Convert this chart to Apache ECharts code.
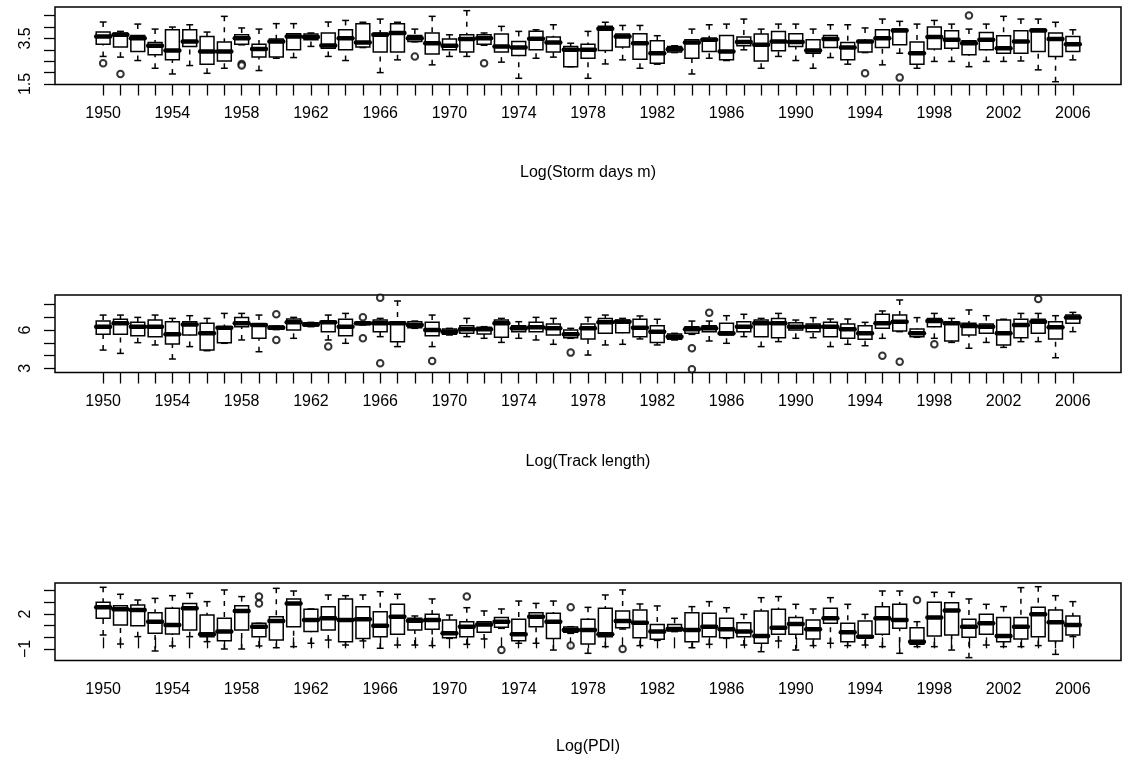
<!DOCTYPE html>
<html>
<head>
<meta charset="utf-8">
<script src="https://cdn.jsdelivr.net/npm/echarts@6/dist/echarts.min.js"></script>
<style>
html,body{margin:0;padding:0;background:#fff;}
#chart{width:1129px;height:757px;}
</style>
</head>
<body>
<div id="chart"></div>
<script>
// ---------- DATA ----------
var years = [];
for (var y = 1950; y <= 2006; y++) years.push(y);
var yearLabels = [1950,1954,1958,1962,1966,1970,1974,1978,1982,1986,1990,1994,1998,2002,2006];

// Panel 1: Log(Storm days m)
var stormMin = [2.71,2.68,2.53,2.19,1.94,2.31,1.97,2.19,3.22,2.09,2.63,2.66,3.15,2.71,2.53,3.10,2.00,2.56,3.35,2.34,2.71,2.71,3.20,2.46,1.75,2.63,2.68,2.26,1.75,2.38,2.56,2.19,2.37,2.88,1.94,2.63,2.53,3.00,2.19,2.71,2.53,2.19,2.66,2.37,2.88,2.34,2.85,2.19,2.49,2.49,2.26,2.49,2.49,2.51,2.12,1.60,2.56];
var stormQ1  = [3.25,3.12,2.93,2.78,2.56,3.15,2.37,2.51,3.25,2.68,2.68,3.00,3.44,3.07,3.00,3.12,2.90,2.90,3.37,2.82,3.00,2.90,3.25,2.90,2.75,3.00,2.90,2.26,2.63,2.97,3.12,2.59,2.41,2.90,2.63,2.93,2.56,3.18,2.51,2.96,3.15,2.85,3.10,2.56,2.90,3.10,3.22,2.37,3.04,3.07,2.78,3.00,2.85,2.85,2.93,2.71,2.93];
var stormMed = [3.59,3.66,3.51,3.18,2.97,3.37,2.93,2.93,3.51,3.04,3.37,3.59,3.56,3.19,3.51,3.32,3.66,3.74,3.51,3.29,3.18,3.47,3.51,3.15,3.10,3.49,3.32,3.00,3.00,3.93,3.59,3.29,2.85,3.03,3.32,3.44,2.93,3.34,3.22,3.37,3.34,2.97,3.47,3.10,3.37,3.51,3.85,2.85,3.56,3.44,3.29,3.44,3.07,3.37,3.85,3.47,3.25];
var stormQ3  = [3.78,3.74,3.63,3.32,3.88,3.88,3.59,3.34,3.66,3.25,3.47,3.71,3.69,3.74,3.88,4.15,3.74,4.15,3.63,3.74,3.47,3.66,3.66,3.69,3.37,3.82,3.56,3.15,3.25,4.03,3.69,3.71,3.40,3.15,3.44,3.51,3.63,3.56,3.69,3.81,3.71,3.44,3.63,3.32,3.41,3.88,3.91,3.34,4.00,3.84,3.40,3.76,3.62,3.84,3.91,3.74,3.59];
var stormMax = [4.22,3.81,4.13,3.91,4.00,4.10,3.78,4.47,3.96,3.91,4.15,4.15,3.74,4.22,4.29,4.21,4.35,4.21,3.91,4.47,3.66,4.72,3.74,4.03,3.81,3.88,4.10,3.29,3.81,4.21,4.07,4.07,3.62,3.18,3.91,4.10,4.13,4.35,3.91,4.13,4.13,3.91,4.10,4.10,3.96,4.35,4.25,4.13,4.29,4.13,3.91,4.13,4.47,4.35,4.35,4.21,3.88];
var stormOut = [[1950,2.41],[1951,1.94],[1958,2.38],[1958,2.31],[1968,2.71],[1972,2.41],[1994,1.97],[1996,1.78],[2000,4.51]];

// Panel 2: Log(Track length)
var trackMin = [4.43,4.17,5.01,4.83,3.73,4.70,4.38,4.96,5.22,4.30,6.03,5.35,6.26,5.22,4.96,6.39,5.48,4.70,6.13,4.70,5.61,5.48,5.35,5.03,5.35,5.22,4.88,5.35,4.04,4.83,4.88,5.30,4.83,5.22,5.66,5.14,4.96,5.48,4.70,5.09,5.35,5.40,4.70,4.88,4.77,5.35,5.87,5.43,5.35,5.03,4.57,5.03,4.64,5.09,5.09,3.83,5.87];
var trackQ1  = [5.66,5.66,5.56,5.48,4.90,5.61,4.43,5.01,6.26,5.35,6.05,6.00,6.31,5.87,5.56,6.44,5.87,5.09,6.18,5.56,5.66,5.74,5.69,5.43,5.87,5.87,5.61,5.40,5.30,5.74,5.79,5.48,5.03,5.27,5.74,5.87,5.61,5.87,5.48,5.40,6.00,5.87,5.48,5.35,5.27,6.13,5.92,5.48,6.26,5.14,5.61,5.74,4.83,5.40,5.74,5.30,6.52];
var trackMed = [6.26,6.52,6.26,6.26,5.66,6.44,5.74,6.18,6.52,6.39,6.18,6.60,6.44,6.60,6.26,6.52,6.52,6.52,6.39,6.00,5.87,6.05,6.05,6.52,6.13,6.21,6.13,5.66,6.13,6.60,6.65,6.18,5.87,5.48,6.05,6.13,5.74,6.26,6.52,6.52,6.26,6.26,6.26,6.05,5.74,6.52,6.65,5.74,6.70,6.52,6.31,6.26,5.74,6.39,6.65,6.21,6.97];
var trackQ3  = [6.70,6.84,6.60,6.78,6.65,6.65,6.52,6.26,6.97,6.44,6.31,6.86,6.57,6.65,6.84,6.57,6.78,6.65,6.65,6.60,6.08,6.34,6.21,6.78,6.34,6.60,6.47,6.00,6.47,6.91,6.78,6.84,6.34,5.69,6.26,6.34,6.52,6.65,6.78,6.91,6.57,6.47,6.60,6.47,6.34,7.23,7.17,6.08,6.91,6.60,6.52,6.47,6.78,6.84,6.84,6.65,7.17];
var trackMax = [7.17,7.17,6.99,7.17,6.91,7.12,6.91,7.30,7.30,7.17,6.31,6.99,6.60,7.17,7.30,6.57,6.91,8.27,6.70,7.17,6.13,6.91,6.26,6.91,6.65,6.99,6.91,6.13,6.99,7.17,6.91,7.10,6.84,5.74,6.70,6.70,7.12,7.23,6.91,7.30,6.78,6.97,6.86,6.86,6.60,7.49,8.35,6.97,7.30,6.91,7.57,7.12,6.84,7.30,7.30,7.12,7.38];
var trackOut = [[1960,7.23],[1960,5.22],[1963,4.70],[1965,6.99],[1965,5.35],[1966,8.53],[1966,3.39],[1969,3.57],[1977,4.23],[1984,4.57],[1984,2.92],[1985,7.36],[1995,3.99],[1996,3.52],[1998,4.88],[2004,8.43]];

// Panel 3: Log(PDI)
var pdiMin = [0.20,-0.57,0.06,-1.17,-0.74,0.06,-0.37,-1.00,-1.00,-0.74,-0.89,-0.80,-0.51,-0.23,-0.66,-0.31,-0.94,-0.66,-0.66,-0.71,-0.09,-0.60,-0.14,0.77,-0.51,-0.51,-1.09,0.34,-1.37,-0.80,0.71,-0.71,-0.26,0.49,-0.89,-0.60,-0.09,-0.66,-1.23,-0.31,-1.09,-0.71,-0.51,-0.71,-0.66,-0.80,-1.37,-0.80,-0.80,-1.09,-1.74,-0.66,-0.80,-0.80,-0.71,-1.46,0.06];
var pdiQ1  = [1.63,1.06,1.00,0.34,0.29,0.63,0.06,-0.29,0.63,0.06,-0.23,0.91,0.49,0.63,-0.37,-0.09,0.06,0.26,0.63,0.69,-0.03,0.06,0.43,0.86,-0.29,0.91,-0.09,0.43,-0.57,0.06,0.83,-0.03,-0.17,0.54,-0.37,0.06,-0.03,0.06,-0.51,0.26,0.26,-0.14,1.20,-0.37,0.00,0.26,0.77,-0.60,0.11,0.20,0.00,0.26,-0.37,-0.14,0.06,-0.31,0.20];
var pdiMed = [2.57,2.40,2.34,1.34,1.06,2.49,0.26,0.49,2.26,0.91,1.40,2.91,1.49,1.63,1.49,1.54,1.00,1.77,1.43,1.49,0.34,0.91,1.11,1.34,0.26,1.77,1.34,0.63,0.63,0.26,1.40,1.26,0.49,0.71,0.63,0.91,0.69,0.49,0.11,0.83,1.14,0.69,1.63,0.43,0.06,1.63,1.49,-0.37,1.69,2.29,0.91,1.20,0.11,0.91,1.97,1.29,1.06];
var pdiQ3  = [3.00,2.71,2.77,2.11,2.49,2.91,1.91,1.63,2.71,1.20,1.77,3.29,2.40,2.63,3.29,2.63,2.20,2.83,1.63,1.97,1.49,1.34,1.34,1.69,1.54,2.11,2.06,0.89,1.54,2.49,2.26,2.34,1.11,1.11,2.11,2.06,1.63,1.26,2.26,2.40,1.69,1.49,2.49,1.20,1.40,2.63,2.83,0.83,3.00,2.97,1.54,1.97,1.71,1.71,2.57,2.34,1.83];
var pdiMax = [4.29,3.69,3.20,3.34,3.57,3.77,3.06,4.06,3.49,1.20,4.20,3.97,2.43,3.63,3.57,3.63,3.91,3.69,1.83,3.29,1.91,2.54,2.26,2.43,3.11,2.91,3.11,0.91,2.57,3.63,4.06,2.86,2.69,1.63,2.63,3.06,2.54,1.97,3.40,3.49,2.83,2.43,3.40,2.83,1.97,3.97,3.97,1.34,3.86,3.86,3.29,2.83,2.63,4.26,4.34,3.57,3.06];
var pdiOut = [[1959,3.49],[1959,2.91],[1971,3.49],[1973,-1.09],[1977,2.57],[1977,-0.71],[1980,-1.00],[1997,3.20]];

var stormTicks = [1.5,2.0,2.5,3.0,3.5,4.0,4.5], stormTickLabels = [1.5,3.5];
var trackTicks = [3,4,5,6,7,8], trackTickLabels = [3,6];
var pdiTicks = [-1,0,1,2,3,4], pdiTickLabels = [-1,2];

// ---------- CHART ----------
function rows(mn, q1, md, q3, mx) {
  return years.map(function (yr, i) { return [yr, mn[i], q1[i], md[i], q3[i], mx[i]]; });
}
var FONT = '"Liberation Sans", Arial, Helvetica, sans-serif';
var LW = 1.5;

function renderBox(params, api) {
  var x = api.value(0);
  var pLo = api.coord([x, api.value(1)]);
  var pQ1 = api.coord([x, api.value(2)]);
  var pMd = api.coord([x, api.value(3)]);
  var pQ3 = api.coord([x, api.value(4)]);
  var pHi = api.coord([x, api.value(5)]);
  var bw = api.size([0.8, 0])[0];
  var half = bw / 2, st = bw / 4, cx = pMd[0];
  var ls = { stroke: '#000', lineWidth: LW, fill: null };
  var dash = { stroke: '#000', lineWidth: LW, fill: null, lineDash: [5, 6] };
  return {
    type: 'group',
    children: [
      { type: 'line', shape: { x1: cx, y1: pLo[1], x2: cx, y2: pQ1[1] }, style: dash },
      { type: 'line', shape: { x1: cx, y1: pHi[1], x2: cx, y2: pQ3[1] }, style: dash },
      { type: 'line', shape: { x1: cx - st, y1: pLo[1], x2: cx + st, y2: pLo[1] }, style: ls },
      { type: 'line', shape: { x1: cx - st, y1: pHi[1], x2: cx + st, y2: pHi[1] }, style: ls },
      { type: 'rect', shape: { x: cx - half, y: pQ3[1], width: bw, height: pQ1[1] - pQ3[1] },
        style: { stroke: '#000', lineWidth: LW, fill: '#fff' } },
      { type: 'line', shape: { x1: cx - half, y1: pMd[1], x2: cx + half, y2: pMd[1] },
        style: { stroke: '#000', lineWidth: 4.5, lineCap: 'round' } }
    ]
  };
}

var panels = [
  { name: 'Log(Storm days m)', data: rows(stormMin, stormQ1, stormMed, stormQ3, stormMax), out: stormOut,
    ymin: 1.478, ymax: 4.88, ticks: stormTicks, labels: stormTickLabels, top: 7, gap: 80,
    fmt: function (v) { return v.toFixed(1); } },
  { name: 'Log(Track length)', data: rows(trackMin, trackQ1, trackMed, trackQ3, trackMax), out: trackOut,
    ymin: 2.674, ymax: 8.74, ticks: trackTicks, labels: trackTickLabels, top: 295, gap: 81,
    fmt: function (v) { return String(v); } },
  { name: 'Log(PDI)', data: rows(pdiMin, pdiQ1, pdiMed, pdiQ3, pdiMax), out: pdiOut,
    ymin: -1.986, ymax: 4.657, ticks: pdiTicks, labels: pdiTickLabels, top: 583, gap: 78,
    fmt: function (v) { return v < 0 ? '\u2212' + Math.abs(v) : String(v); } }
];

var grids = [], xAxes = [], yAxes = [], series = [];
panels.forEach(function (p, k) {
  grids.push({ left: 55, width: 1066, top: p.top, height: 77.5, show: true,
    borderColor: '#000', borderWidth: 1.5, backgroundColor: 'transparent',
    containLabel: false, outerBoundsMode: 'none' });
  xAxes.push({
    gridIndex: k, type: 'value', min: 1947.22, max: 2008.78,
    axisLine: { show: false }, splitLine: { show: false },
    axisTick: { show: true, length: 11, customValues: years, lineStyle: { color: '#000', width: 1.3 } },
    axisLabel: { customValues: yearLabels, margin: 21, fontSize: 16, color: '#000', fontFamily: FONT,
      formatter: function (v) { return String(Math.round(v)); } },
    name: p.name, nameLocation: 'middle', nameGap: p.gap,
    nameTextStyle: { fontSize: 16, color: '#000', fontFamily: FONT }
  });
  yAxes.push({
    gridIndex: k, type: 'value', min: p.ymin, max: p.ymax,
    axisLine: { show: false }, splitLine: { show: false },
    axisTick: { show: true, length: 11, customValues: p.ticks, lineStyle: { color: '#000', width: 1.3 } },
    axisLabel: { customValues: p.labels, rotate: 90, margin: 21, fontSize: 16, color: '#000', fontFamily: FONT,
      formatter: p.fmt }
  });
  series.push({
    type: 'custom', xAxisIndex: k, yAxisIndex: k, renderItem: renderBox, data: p.data,
    encode: { x: 0, y: [1, 2, 3, 4, 5] }, clip: false, silent: true
  });
  series.push({
    type: 'scatter', xAxisIndex: k, yAxisIndex: k, data: p.out, symbol: 'emptyCircle', symbolSize: 6.5,
    itemStyle: { color: '#000', borderColor: '#000', borderWidth: 1.3 }, silent: true, z: 3
  });
});

var chart = echarts.init(document.getElementById('chart'), null, { renderer: 'canvas' });
chart.setOption({
  animation: false,
  backgroundColor: '#fff',
  grid: grids, xAxis: xAxes, yAxis: yAxes, series: series
});
</script>
</body>
</html>
